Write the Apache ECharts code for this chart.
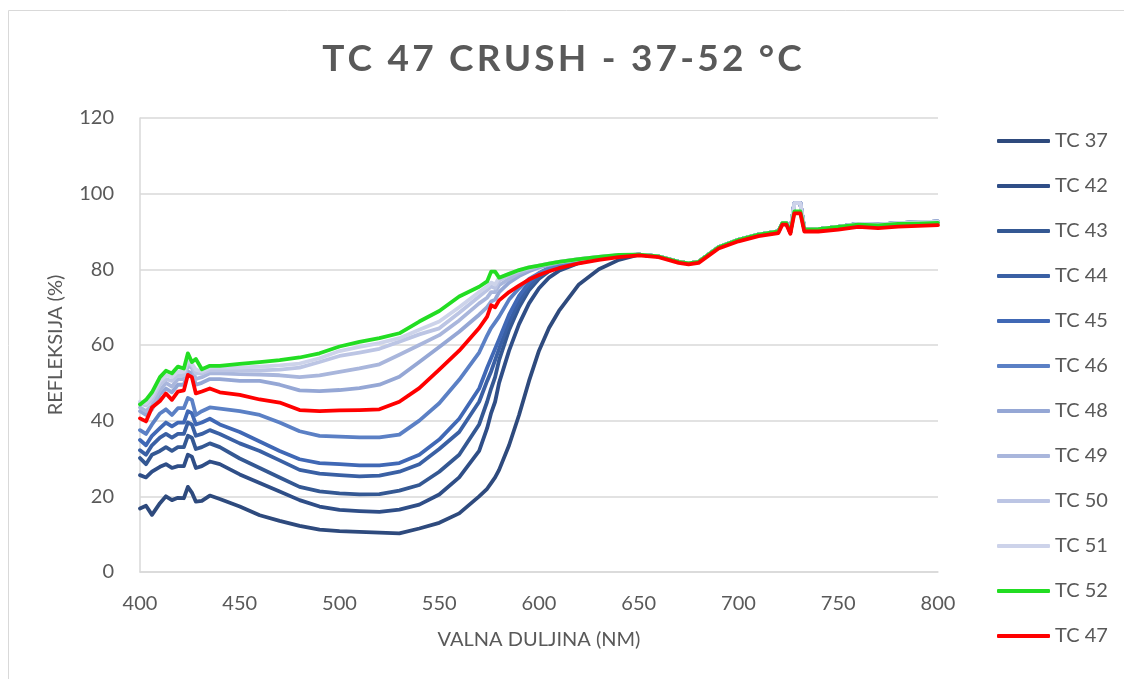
<!DOCTYPE html>
<html>
<head>
<meta charset="utf-8">
<script src="https://cdn.jsdelivr.net/npm/echarts@6/dist/echarts.min.js"></script>
<style>
  html, body { margin: 0; padding: 0; background: #fff; }
  #chart { width: 1124px; height: 679px; }
</style>
</head>
<body>
<div id="chart"></div>
<script>
// valne duljine (nm)
var wlHead = [400,403,406,410,413,416,419,422,424,426,428,431,435,440,450,460,470,480,490,500,
  510,520,530,540,550,560,570,574,576,578,580,585,590,595,600,605,610,620,630,640];
var wlTail = [650,660,670,675,680,690,700,710,720,722,724,726,728,731,733,740,750,760,770,780,790,800];

// refleksija (%) 400-640 nm
var tc37 = [16.8,17.5,15.1,18.2,20,19,19.6,19.5,22.5,21,18.6,18.8,20.2,19.3,17.3,15,13.5,12.2,11.2,10.8,
  10.6,10.4,10.2,11.5,13,15.5,20,22,23.5,25,27,33.5,41.5,50.5,58.5,64.5,69,76,80,82.5];
var tc42 = [25.6,25,26.5,27.8,28.5,27.5,28,28,31,30.5,27.5,28,29.2,28.5,25.8,23.5,21.3,19,17.3,16.4,
  16.1,15.9,16.5,17.8,20.5,25,32,38,42,45,50,58.5,65.5,71,75,77.8,79.6,81.7,82.8,83.4];
var tc43 = [30.1,28.5,31,32,33,32,33,33,36,35.5,32.5,33,34,33,30,27.5,25,22.5,21.3,20.8,
  20.5,20.6,21.5,23,26.5,31,39,45,48.5,51.5,56,64,70,74.5,77.5,79.5,80.8,82.2,83,83.5];
var tc44 = [32.2,31,33.5,35.5,36.5,35.5,36.5,36.5,39.5,39,36,36.5,37.5,36.5,34,32,29.5,27,26,25.6,
  25.3,25.5,26.5,28.5,32.5,37,45,50.5,53,56,59,66,71.5,75.5,78.2,80,81.2,82.4,83.1,83.5];
var tc45 = [34.9,33.5,36,38,39.5,38.5,39.5,39.5,42.5,42,39,39.5,40.5,39,37,34.5,32,29.8,28.8,28.5,
  28.2,28.2,28.8,31,35,40.5,48.5,54,56.5,59,61.5,68,73,76.5,79,80.4,81.4,82.5,83.2,83.6];
var tc46 = [37.5,36.5,39,41.9,43,41.5,43.3,43.3,46,45.5,41.5,42.5,43.5,43.2,42.5,41.5,39.5,37.2,36,35.8,
  35.6,35.6,36.3,40,44.6,50.8,58,62.5,64.5,66,67.5,72,75,77.5,79,80.2,81,82.2,83,83.5];
var tc48 = [42.5,41.5,43,47,48.5,47.5,49.5,49.5,53,52.5,49.5,50,51,51,50.5,50.5,49.5,48,47.8,48.1,
  48.6,49.5,51.6,55.5,59.5,63.5,68,70,71.5,72,74,76.5,78.2,79.5,80.5,81.2,81.8,82.6,83.2,83.6];
var tc49 = [43.5,42.5,44,48,50,49,51,51,54.5,54,51,51.5,52.5,52.5,52.3,52.2,52,51.5,52,52.9,
  53.8,54.9,57.4,60,62.6,66.5,71,72.5,74,74,75.8,77.5,79,80,80.8,81.4,82,82.7,83.3,83.7];
var tc50 = [44.5,44,45.5,49.5,51,50.5,52,52,55.5,54.5,52.5,52.5,53.3,53.3,53.3,53.3,53.5,54,55.5,57.1,
  58,59,60.9,62.8,64.4,68.5,72.8,74.5,75.5,75,77,78.5,79.5,80.3,81,81.5,82,82.7,83.3,83.7];
var tc51 = [45,44.5,46.5,50.5,52,51.5,53,53,56,55,53.5,53,54,54,54,54.3,54.6,55.1,56.5,58.4,
  59.5,60.5,61.8,64,66.2,70,74,75.5,76.5,76,77.8,78.8,79.8,80.5,81,81.5,82,82.7,83.3,83.8];
var tc52 = [44.3,45.5,47.5,51.5,53.2,52.5,54.3,53.8,57.8,55.5,56.3,53.6,54.5,54.5,55,55.5,56,56.7,57.8,59.6,
  60.8,61.8,63.1,66.2,69,72.8,75.4,76.8,79.4,79.4,77.8,78.8,79.8,80.5,81,81.5,82,82.7,83.3,83.8];
var tc47 = [40.6,39.8,43.5,45.2,47.2,45.5,47.7,48,52.1,51.5,47.2,47.7,48.5,47.5,46.8,45.6,44.8,42.8,42.5,42.7,
  42.8,43,45,48.6,53.5,58.5,64.5,67.5,70.5,70,71.8,74,75.7,77.3,78.5,79.5,80.3,81.6,82.5,83.2];

// 650-800 nm (krivulje se preklapaju)
var tailBlue = [83.9,83.4,82,81.6,82,85.8,87.8,89.2,90,92.2,92.2,89.8,97.5,97.5,90.5,90.6,91.2,92,91.8,92.2,92.4,92.6];
var tailGreen = [83.9,83.4,82,81.6,82,85.8,87.8,89.2,90,92.2,92.2,89.8,95.3,95.3,90.5,90.6,91.2,91.8,91.6,92,92.1,92.3];
var tailRed = [83.7,83.2,81.7,81.3,81.7,85.5,87.4,88.8,89.6,91.8,91.8,89.4,94.8,94.8,90,90,90.5,91.2,90.9,91.3,91.5,91.7];

var names = ["TC 37","TC 42","TC 43","TC 44","TC 45","TC 46","TC 48","TC 49","TC 50","TC 51","TC 52","TC 47"];
var heads = [tc37,tc42,tc43,tc44,tc45,tc46,tc48,tc49,tc50,tc51,tc52,tc47];
var tails = [tailBlue,tailBlue,tailBlue,tailBlue,tailBlue,tailBlue,tailBlue,tailBlue,tailBlue,tailBlue,tailGreen,tailRed];
var colors = ["#2e4a7d","#2f4e87","#345893","#3a60a4","#4068b5","#5b80c5","#95a7d5","#a9b6dc","#bcc5e4","#cdd3ea","#22dd22","#ff0000"];

var titleText = "TC 47 CRUSH - 37-52 °C";

function toPairs(head, tail) {
  var xs = wlHead.concat(wlTail);
  var ys = head.concat(tail);
  return xs.map(function (x, i) { return [x, ys[i]]; });
}

// razmak izmedu slova u naslovu (rich text)
function spaced(str) {
  return str.split("").map(function (c) { return "{s|" + c + "}"; }).join("");
}

var txt = "#595959";
var font = "Lato";

var myChart = echarts.init(document.getElementById("chart"));
var option = {
  animation: false,
  textStyle: { fontFamily: font },
  title: {
    text: spaced(titleText),
    left: "center",
    top: 36,
    textStyle: {
      fontFamily: font, fontWeight: "bold", fontSize: 37, color: txt,
      rich: { s: { fontFamily: font, fontWeight: "bold", fontSize: 37, color: txt, padding: [0, 1.6, 0, 1.6] } },
    },
  },
  graphic: [
    { type: "rect", shape: { x: 8.5, y: 10.5, width: 1200, height: 700 }, style: { fill: "none", stroke: "#d9d9d9", lineWidth: 1 }, silent: true },
  ],
  legend: {
    orient: "vertical",
    left: 997,
    top: 131,
    padding: 0,
    icon: "roundRect",
    itemWidth: 53,
    itemHeight: 4,
    itemGap: 25,
    data: names,
    textStyle: { fontFamily: font, fontSize: 20, color: txt, lineHeight: 20 },
  },
  grid: {
    left: 140,
    right: 186,
    top: 118,
    bottom: 107,
    containLabel: false,
  },
  xAxis: {
    type: "value",
    min: 400,
    max: 800,
    interval: 50,
    name: "VALNA DULJINA (NM)",
    nameLocation: "middle",
    nameGap: 58,
    nameTextStyle: { fontFamily: font, fontSize: 20, color: txt },
    axisLabel: { fontFamily: font, fontSize: 20, color: txt, margin: 22 },
    axisTick: { show: false },
    axisLine: { show: true, lineStyle: { color: "#d9d9d9", width: 1.5 } },
    splitLine: { show: false },
  },
  yAxis: {
    type: "value",
    min: 0,
    max: 120,
    interval: 20,
    name: "REFLEKSIJA (%)",
    nameLocation: "middle",
    nameGap: 74,
    nameTextStyle: { fontFamily: font, fontSize: 20, color: txt },
    axisLabel: { fontFamily: font, fontSize: 20, color: txt, margin: 26 },
    axisTick: { show: false },
    axisLine: { show: true, lineStyle: { color: "#d9d9d9", width: 1.5 } },
    splitLine: { show: true, lineStyle: { color: "#d9d9d9", width: 1.5 } },
  },
  series: names.map(function (n, i) {
    return {
      name: n,
      type: "line",
      showSymbol: false,
      symbol: "none",
      data: toPairs(heads[i], tails[i]),
      itemStyle: { color: colors[i] },
      lineStyle: { color: colors[i], width: 3.8, join: "round", cap: "round" },
      emphasis: { disabled: true },
    };
  }),
};
myChart.setOption(option);
</script>
</body>
</html>
